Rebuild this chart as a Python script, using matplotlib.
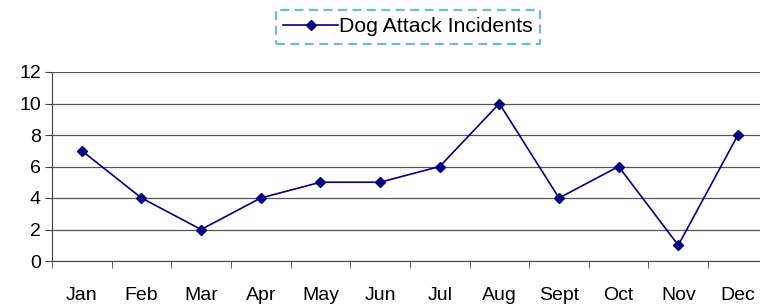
import matplotlib.pyplot as plt
import numpy as np

months = ['Jan', 'Feb', 'Mar', 'Apr', 'May', 'Jun', 'Jul', 'Aug', 'Sept', 'Oct', 'Nov', 'Dec']
incidents = [7, 4, 2, 4, 5, 5, 6, 10, 4, 6, 1, 8]

plt.rcParams['font.family'] = ['Liberation Sans', 'DejaVu Sans']

fig = plt.figure(figsize=(7.6, 3.08), dpi=100)
ax = fig.add_axes([52 / 760, 1 - 261 / 308, 708 / 760, 189 / 308])

x = np.arange(len(months))
ax.plot(x, incidents, color='#000080', lw=1.2, marker='D', ms=5.5,
        label='Dog Attack Incidents', zorder=3)

ax.set_yticks(range(0, 13, 2))
ax.set_xticks(x)
ax.set_xticklabels(months)
ax.set_xticks(np.arange(-0.5, 12, 1), minor=True)
# limits after the ticks, else set_xticks widens them
ax.set_ylim(0, 12)
ax.set_xlim(-0.5, 11.37)
ax.tick_params(axis='x', which='major', length=0, pad=19, labelsize=14)
ax.tick_params(axis='x', which='minor', length=5, direction='out', color='#444444')
ax.tick_params(axis='y', length=5, direction='out', labelsize=14, color='#444444', pad=3)
ax.yaxis.grid(True, color='#555555', lw=0.9)
ax.set_axisbelow(True)
for s in ['top', 'right']:
    ax.spines[s].set_visible(False)
ax.spines['left'].set_color('#444444')
ax.spines['bottom'].set_color('#444444')

leg = ax.legend(loc='center', fontsize=15.3, fancybox=False,
                handlelength=2.6, handletextpad=0.05, borderpad=0.35, borderaxespad=0)
leg.set_bbox_to_anchor((408 / 760, 1 - 27 / 308), transform=fig.transFigure)
frame = leg.get_frame()
frame.set_edgecolor('#4BACC6')
frame.set_linestyle((0, (4, 2.5)))
frame.set_linewidth(1.6)

fig.savefig('out.png', dpi=100)
